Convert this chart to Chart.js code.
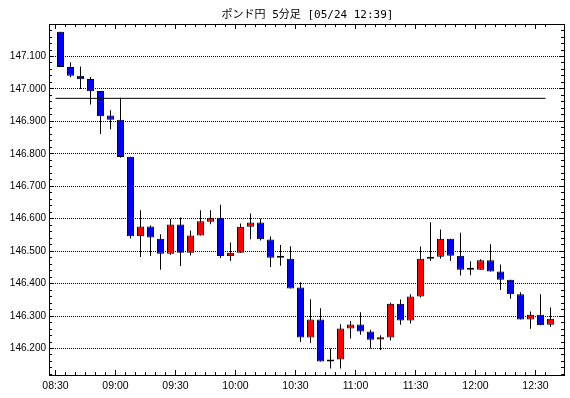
<!DOCTYPE html>
<html>
<head>
<meta charset="utf-8">
<script src="https://cdn.jsdelivr.net/npm/chart.js@4"></script>
<style>
html,body{margin:0;padding:0;background:#fff;}
canvas{display:block;}
</style>
</head>
<body>
<canvas id="c" width="570" height="398" style="width:570px;height:398px"></canvas>
<script>
const TITLE = 'ポンド円 5分足 [05/24 12:39]';
const TIMES = ['08:30','08:35','08:40','08:45','08:50','08:55','09:00','09:05','09:10','09:15',
  '09:20','09:25','09:30','09:35','09:40','09:45','09:50','09:55','10:00','10:05',
  '10:10','10:15','10:20','10:25','10:30','10:35','10:40','10:45','10:50','10:55',
  '11:00','11:05','11:10','11:15','11:20','11:25','11:30','11:35','11:40','11:45',
  '11:50','11:55','12:00','12:05','12:10','12:15','12:20','12:25','12:30','12:35'];
const OPEN = [147.176,147.068,147.041,147.031,146.994,146.918,146.905,146.791,146.546,146.576,
  146.538,146.492,146.582,146.495,146.548,146.591,146.603,146.485,146.495,146.575,
  146.588,146.536,146.480,146.477,146.388,146.234,146.289,146.160,146.166,146.262,
  146.274,146.252,146.228,146.234,146.338,146.286,146.360,146.477,146.483,146.538,
  146.486,146.443,146.443,146.472,146.437,146.412,146.367,146.289,146.304,146.273];
const HIGH = [147.176,147.082,147.069,147.037,146.994,146.934,146.973,146.791,146.626,146.579,
  146.552,146.599,146.604,146.564,146.626,146.626,146.643,146.527,146.585,146.616,
  146.600,146.545,146.519,146.515,146.404,146.352,146.324,146.200,146.275,146.285,
  146.312,146.258,146.241,146.342,146.351,146.367,146.514,146.589,146.567,146.538,
  146.557,146.469,146.475,146.521,146.459,146.412,146.373,146.314,146.367,146.326];
const LOW = [147.068,147.036,147.000,146.952,146.861,146.876,146.788,146.539,146.482,146.485,
  146.443,146.489,146.454,146.487,146.548,146.583,146.479,146.470,146.495,146.537,
  146.533,146.451,146.455,146.385,146.220,146.217,146.160,146.138,146.138,146.231,
  146.242,146.200,146.195,146.225,146.273,146.277,146.357,146.470,146.477,146.470,
  146.425,146.426,146.443,146.437,146.380,146.353,146.289,146.261,146.272,146.267];
const CLOSE = [147.068,147.041,147.030,146.993,146.916,146.905,146.790,146.546,146.576,146.542,
  146.492,146.582,146.495,146.548,146.592,146.603,146.485,146.495,146.575,146.588,
  146.537,146.480,146.480,146.385,146.234,146.289,146.160,146.166,146.262,146.274,
  146.252,146.227,146.235,146.338,146.286,146.360,146.477,146.483,146.538,146.486,
  146.443,146.443,146.472,146.437,146.412,146.367,146.289,146.304,146.272,146.292];
const REF_LINE = 146.971;
const YTICKS = [146.2,146.3,146.4,146.5,146.6,146.7,146.8,146.9,147.0,147.1];
const XTICK_LABELS = ['08:30','09:00','09:30','10:00','10:30','11:00','11:30','12:00','12:30'];

const UP = '#ff0000', DOWN = '#0000ff';

const bodies = TIMES.map((t,i)=>({x:i+0.5, y:[Math.min(OPEN[i],CLOSE[i]), Math.max(OPEN[i],CLOSE[i])]}));
const wicks = TIMES.map((t,i)=>({x:i+0.5, y:[LOW[i], HIGH[i]]}));
const bodyColors = TIMES.map((t,i)=> CLOSE[i] >= OPEN[i] ? UP : DOWN);

const framePlugin = {
  id: 'frame',
  afterDraw(chart){
    const {ctx, chartArea:a, scales:{x,y}} = chart;
    ctx.save();
    ctx.strokeStyle = '#000';
    ctx.lineWidth = 1;
    ctx.beginPath();
    // x ticks (every slot, major each label)
    const majors = XTICK_LABELS.map(l=>TIMES.indexOf(l));
    for (let i=0;i<TIMES.length;i++){
      const px = Math.round(x.getPixelForValue(i)-0.5)+0.5;
      const len = majors.includes(i) ? 5 : 3;
      ctx.moveTo(px, a.bottom); ctx.lineTo(px, a.bottom-len);
      ctx.moveTo(px, a.top); ctx.lineTo(px, a.top+len);
    }
    // y ticks every 0.02
    const k0 = Math.ceil(y.min*50-1e-6), k1 = Math.floor(y.max*50+1e-6);
    for (let k=k0;k<=k1;k++){
      const py = Math.round(y.getPixelForValue(k/50)-0.5)+0.5;
      if (py < a.top+1 || py > a.bottom) continue;
      const len = (k%5===0) ? 5 : 3;
      ctx.moveTo(a.left, py); ctx.lineTo(a.left+len, py);
      ctx.moveTo(a.right, py); ctx.lineTo(a.right-len, py);
    }
    ctx.stroke();
    ctx.strokeRect(a.left+0.5, a.top+0.5, a.right-a.left, a.bottom-a.top);
    // title
    ctx.fillStyle = '#000';
    ctx.font = "11px 'DejaVu Sans Mono', 'Noto Sans CJK JP'";
    ctx.textAlign = 'center';
    ctx.textBaseline = 'middle';
    ctx.fillText(TITLE, (a.left+a.right)/2+1, 15);
    ctx.restore();
  }
};

Chart.defaults.font.family = "'Liberation Sans', Arial, sans-serif";
Chart.defaults.color = '#000';

new Chart(document.getElementById('c'), {
  type: 'bar',
  data: {
    datasets: [
      { type:'line', data:[{x:0,y:REF_LINE},{x:49,y:REF_LINE}], borderColor:'#000', borderWidth:1,
        pointRadius:0, fill:false, order:0, tension:0 },
      { data: bodies, backgroundColor: bodyColors, borderColor:'#000', borderWidth:1, borderSkipped:false,
        grouped:false, barThickness:7, maxBarThickness:7, minBarLength:2, order:1, inflateAmount:0 },
      { data: wicks, backgroundColor:'#000', borderWidth:0, grouped:false, barThickness:1, maxBarThickness:1,
        order:2, inflateAmount:0 }
    ]
  },
  options: {
    responsive:false, animation:false, indexAxis:'x',
    layout:{ padding:{ top:24, right:6, bottom:0, left:0 } },
    plugins:{ legend:{display:false}, tooltip:{enabled:false}, title:{display:false} },
    scales:{
      x:{ type:'linear', min:-0.65, max:50.85, offset:false,
        grid:{ display:false, offset:false, drawTicks:false }, border:{ display:false },
        afterBuildTicks: s => { s.ticks = XTICK_LABELS.map(l=>({value: TIMES.indexOf(l)})); },
        afterFit: s => { s.height = 23; },
        ticks:{ autoSkip:false, maxRotation:0, padding:5, font:{size:10.5},
          callback: v => TIMES[v] }
      },
      y:{ type:'linear', min:146.1183, max:147.2002, beginAtZero:false,
        grid:{ color:'#000', lineWidth:1, drawTicks:false }, border:{ display:false, dash:[1,1] },
        afterBuildTicks: s => { s.ticks = YTICKS.map(v=>({value:v})); },
        afterFit: s => { s.width = 49; },
        ticks:{ padding:3, font:{size:10}, callback: v => Number(v).toFixed(3) }
      }
    }
  },
  plugins:[framePlugin]
});
</script>
</body>
</html>
